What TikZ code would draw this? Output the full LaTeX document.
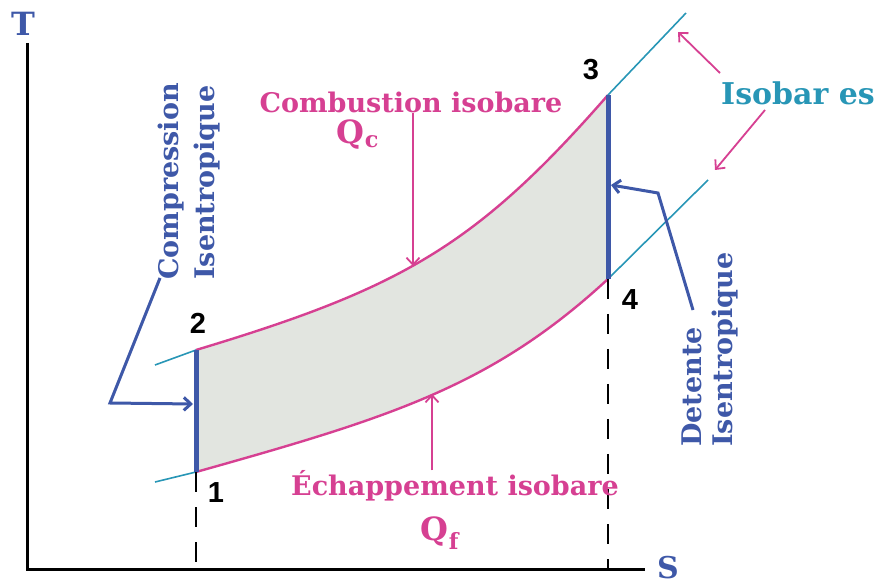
\documentclass[tikz,border=0pt]{standalone}
\usepackage{fontspec}
\setmainfont{DejaVu Serif}
\newfontfamily\chiffres{Liberation Sans}
\usepackage{xcolor}
\usepackage{tikz}
\usetikzlibrary{arrows.meta}

\definecolor{rose}{RGB}{214,64,146}
\definecolor{bleu}{RGB}{62,88,168}
\definecolor{sarcelle}{RGB}{40,150,182}
\definecolor{fond}{RGB}{226,229,224}

\begin{document}
\begin{tikzpicture}[x=1pt,y=-1pt,>={Straight Barb[length=7pt,width=13pt]},
    axe/.style={line width=3pt,black},
    isobare/.style={line width=1.6pt,sarcelle},
    cycleline/.style={line width=2.4pt,rose},
    isentrope/.style={line width=5pt,bleu},
    fleche/.style={->,line width=1.8pt,rose},
    flechebleue/.style={->,line width=3pt,bleu},
    titre/.style={font=\fontsize{27}{29}\selectfont\bfseries,inner sep=0pt},
    numero/.style={font=\chiffres\fontsize{29}{30}\selectfont\bfseries,inner sep=0pt}]
  \useasboundingbox (0,0) rectangle (887,585);
  % points of the cycle
  \coordinate (o) at (27,569);
  \coordinate (p1) at (196,472);
  \coordinate (p2) at (196,350);
  \coordinate (p3) at (608,95);
  \coordinate (p4) at (608,279);
  % shaded area
  \fill[fond] (p1) .. controls (392,417) and (492,386) .. (p4) -- (p3)
     .. controls (476,246) and (402,288) .. (p2) -- cycle;
  \draw[cycleline] (p2) .. controls (402,288) and (476,246) .. (p3);
  \draw[cycleline] (p1) .. controls (392,417) and (492,386) .. (p4);
  % isobares
  \draw[isobare] (155,365) -- (p2);
  \draw[isobare] (155,482) -- (p1);
  \draw[isobare] (p3) -- (686,13);
  \draw[isobare] (p4) -- (708,180);
  \draw[isentrope] (p1) -- (p2);
  \draw[isentrope] (p4) -- (p3);
  % axes
  \draw[dashed,line width=1.8pt,dash pattern=on 20pt off 15pt] (p1) -- (p1 |- o);
  \draw[dashed,line width=1.8pt,dash pattern=on 20pt off 15pt] (p4) -- (p4 |- o);
  \draw[axe] (27,43) -- (o) -- (645,569);
  \node[bleu,font=\fontsize{32}{32}\selectfont\bfseries,inner sep=0pt] (T) at (23,24) {T};
  \node[bleu,titre,font=\fontsize{30}{30}\selectfont\bfseries] (S) at (668,568) {S};
  % numbers
  \node[numero] (n1) at (216,493) {1};
  \node[numero] (n2) at (198,323) {2};
  \node[numero] (n3) at (591,70) {3};
  \node[numero] (n4) at (630,300) {4};
  % texts
  \node[titre,rose] (comb) at (411,102) {Combustion isobare};
  \node[titre,rose,font=\fontsize{32}{32}\selectfont\bfseries] (qc) at (358,135) {Q\textsubscript{c}};
  \coordinate (cc) at (413,266);
  \draw[fleche] (comb.south -| cc) -- (cc);
  \node[titre,rose] (ech) at (455,486) {Échappement isobare};
  \node[titre,rose,font=\fontsize{32}{32}\selectfont\bfseries] (qf) at (440,533) {Q\textsubscript{f}};
  \coordinate (ce) at (432,394);
  \draw[fleche] (ech.north -| ce) -- (ce);
  \node[titre,sarcelle,font=\fontsize{30}{30}\selectfont\bfseries] (iso) at (798,93) {Isobar es};
  \coordinate (ih) at (678,32);
  \coordinate (ib) at (715,170);
  \draw[fleche] (720,73) -- (ih);
  \draw[fleche] (765,110) -- (ib);
  % isentropiques
  \node[titre,bleu,rotate=90,anchor=west] (comp) at (171,280) {Compression};
  \node[titre,bleu,rotate=90,anchor=west] (isc) at (207,280) {Isentropique};
  \node[titre,bleu,rotate=90,anchor=west] (det) at (692,447) {Detente};
  \node[titre,bleu,rotate=90,anchor=west] (isd) at (725,447) {Isentropique};
  \coordinate (cb) at (110,403);
  \coordinate (c12) at (193,404);
  \draw[flechebleue] (160,278) -- (cb) -- (c12);
  \coordinate (db) at (658,193);
  \coordinate (d34) at (611,185);
  \draw[flechebleue] (693,310) -- (db) -- (d34);
\end{tikzpicture}
\end{document}
